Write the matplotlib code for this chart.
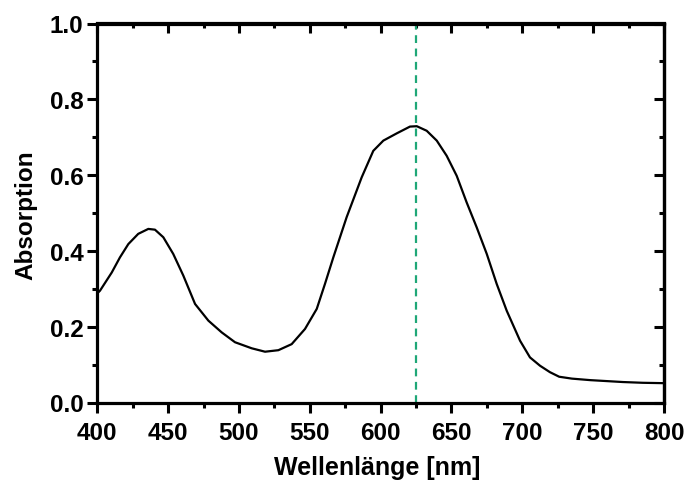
import numpy as np
import matplotlib.pyplot as plt
from matplotlib.ticker import MultipleLocator

# Absorption spectrum
wavelength = [400, 401.9, 410.2, 416, 421.9, 428.9, 436, 440.7, 446.6, 453.6, 460.7,
              469, 478.4, 487.8, 497.2, 509, 518.4, 527.8, 537.2, 546.6, 554.9,
              560.7, 566.6, 576, 586.6, 594.8, 601.9, 611.3, 620.7, 625.5, 632.5,
              639.6, 646.6, 653.7, 660.7, 667.8, 674.9, 681.9, 689, 698.4, 705.4,
              712.5, 719.5, 726, 735, 748, 771, 785, 800]
absorbance = [0.288, 0.295, 0.343, 0.383, 0.418, 0.445, 0.458, 0.456, 0.436, 0.392, 0.335,
              0.26, 0.216, 0.185, 0.159, 0.143, 0.134, 0.138, 0.154, 0.194, 0.247,
              0.313, 0.383, 0.489, 0.594, 0.664, 0.691, 0.71, 0.728, 0.729, 0.717,
              0.691, 0.651, 0.598, 0.528, 0.462, 0.392, 0.313, 0.242, 0.163, 0.119,
              0.097, 0.08, 0.068, 0.063, 0.059, 0.054, 0.052, 0.051]
peak_nm = 625

plt.rcParams['font.family'] = ['Liberation Sans', 'DejaVu Sans']
plt.rcParams['font.weight'] = 'bold'

fig = plt.figure(figsize=(6.85, 4.81), dpi=100)
ax = fig.add_axes([97.3 / 685, 1 - 403.5 / 481, (664 - 97.3) / 685, (403.5 - 24.5) / 481])

ax.plot(wavelength, absorbance, color='black', lw=1.6)
ax.axvline(peak_nm, color='#1fa777', lw=1.6, ls=(0, (3.5, 2.5)))

ax.set_xlim(400, 800)
ax.set_ylim(0, 1.0)
ax.xaxis.set_major_locator(MultipleLocator(50))
ax.xaxis.set_minor_locator(MultipleLocator(25))
ax.yaxis.set_major_locator(MultipleLocator(0.2))
ax.yaxis.set_minor_locator(MultipleLocator(0.1))
ax.yaxis.set_major_formatter(plt.FuncFormatter(lambda v, p: f"{v:.1f}"))

for s in ax.spines.values():
    s.set_linewidth(2.3)

ax.tick_params(which='both', direction='out', width=2.2, labelsize=17.5)
ax.tick_params(which='major', length=7)
ax.tick_params(which='minor', length=3.8)
ax.tick_params(axis='x', pad=6.5)
ax.tick_params(axis='y', pad=3)

# mirrored ticks on top and right, pointing inward
top = ax.secondary_xaxis('top')
top.xaxis.set_major_locator(MultipleLocator(50))
top.xaxis.set_minor_locator(MultipleLocator(25))
top.tick_params(which='both', direction='in', width=2.2, labeltop=False)
top.tick_params(which='major', length=7)
top.tick_params(which='minor', length=3.8)
top.spines['top'].set_linewidth(2.3)
right = ax.secondary_yaxis('right')
right.yaxis.set_major_locator(MultipleLocator(0.2))
right.yaxis.set_minor_locator(MultipleLocator(0.1))
right.tick_params(which='both', direction='in', width=2.2, labelright=False)
right.tick_params(which='major', length=7)
right.tick_params(which='minor', length=3.8)
right.spines['right'].set_linewidth(2.3)

fig.text(377 / 685, 1 - 475 / 481, "Wellenlänge [nm]", ha='center', va='baseline',
         fontsize=18, fontweight='bold')
fig.text(26 / 685, 1 - 215 / 481, "Absorption", ha='center', va='center',
         rotation=90, fontsize=17.5, fontweight='bold')

fig.savefig("out.png", dpi=100)
